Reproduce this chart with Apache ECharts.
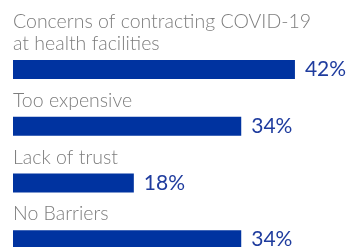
<!DOCTYPE html>
<html>
<head>
<meta charset="utf-8">
<script src="https://cdn.jsdelivr.net/npm/echarts@6/dist/echarts.min.js"></script>
<style>
  html, body { margin: 0; padding: 0; background: #fff; }
  #main { width: 352px; height: 247px; }
</style>
</head>
<body>
<div id="main"></div>
<script>
var categories = ['Concerns of contracting COVID-19\nat health facilities', 'Too expensive', 'Lack of trust', 'No Barriers'];
var values = [42, 34, 18, 34];

var myChart = echarts.init(document.getElementById('main'));
var option = {
	animation : false,
	grid : {
		left : 13,
		width : 339,
		top : 41,
		height : 227,
		outerBoundsMode : 'none'
	},
	xAxis : {
		type : 'value',
		min : 0,
		max : 50.5,
		show : false
	},
	yAxis : {
		type : 'category',
		data : categories,
		inverse : true,
		show : false
	},
	series : [ {
		// bars with the value on the right
		type : 'bar',
		data : values,
		barWidth : 19,
		itemStyle : { color : '#0033a0' },
		label : {
			show : true,
			position : 'right',
			distance : 10,
			formatter : '{c}%',
			color : '#1f3c9e',
			fontFamily : 'Lato',
			fontSize : 21
		}
	}, {
		// invisible copy, only carries the category name above each bar
		type : 'bar',
		data : values,
		barWidth : 19,
		barGap : '-100%',
		itemStyle : { color : 'transparent' },
		label : {
			show : true,
			position : [0, -5],
			align : 'left',
			verticalAlign : 'bottom',
			formatter : function(p) { return categories[p.dataIndex]; },
			color : '#7d7d7d',
			fontFamily : 'Lato',
			fontWeight : 300,
			fontSize : 19.5,
			lineHeight : 22
		}
	} ]
};
myChart.setOption(option);
</script>
</body>
</html>
